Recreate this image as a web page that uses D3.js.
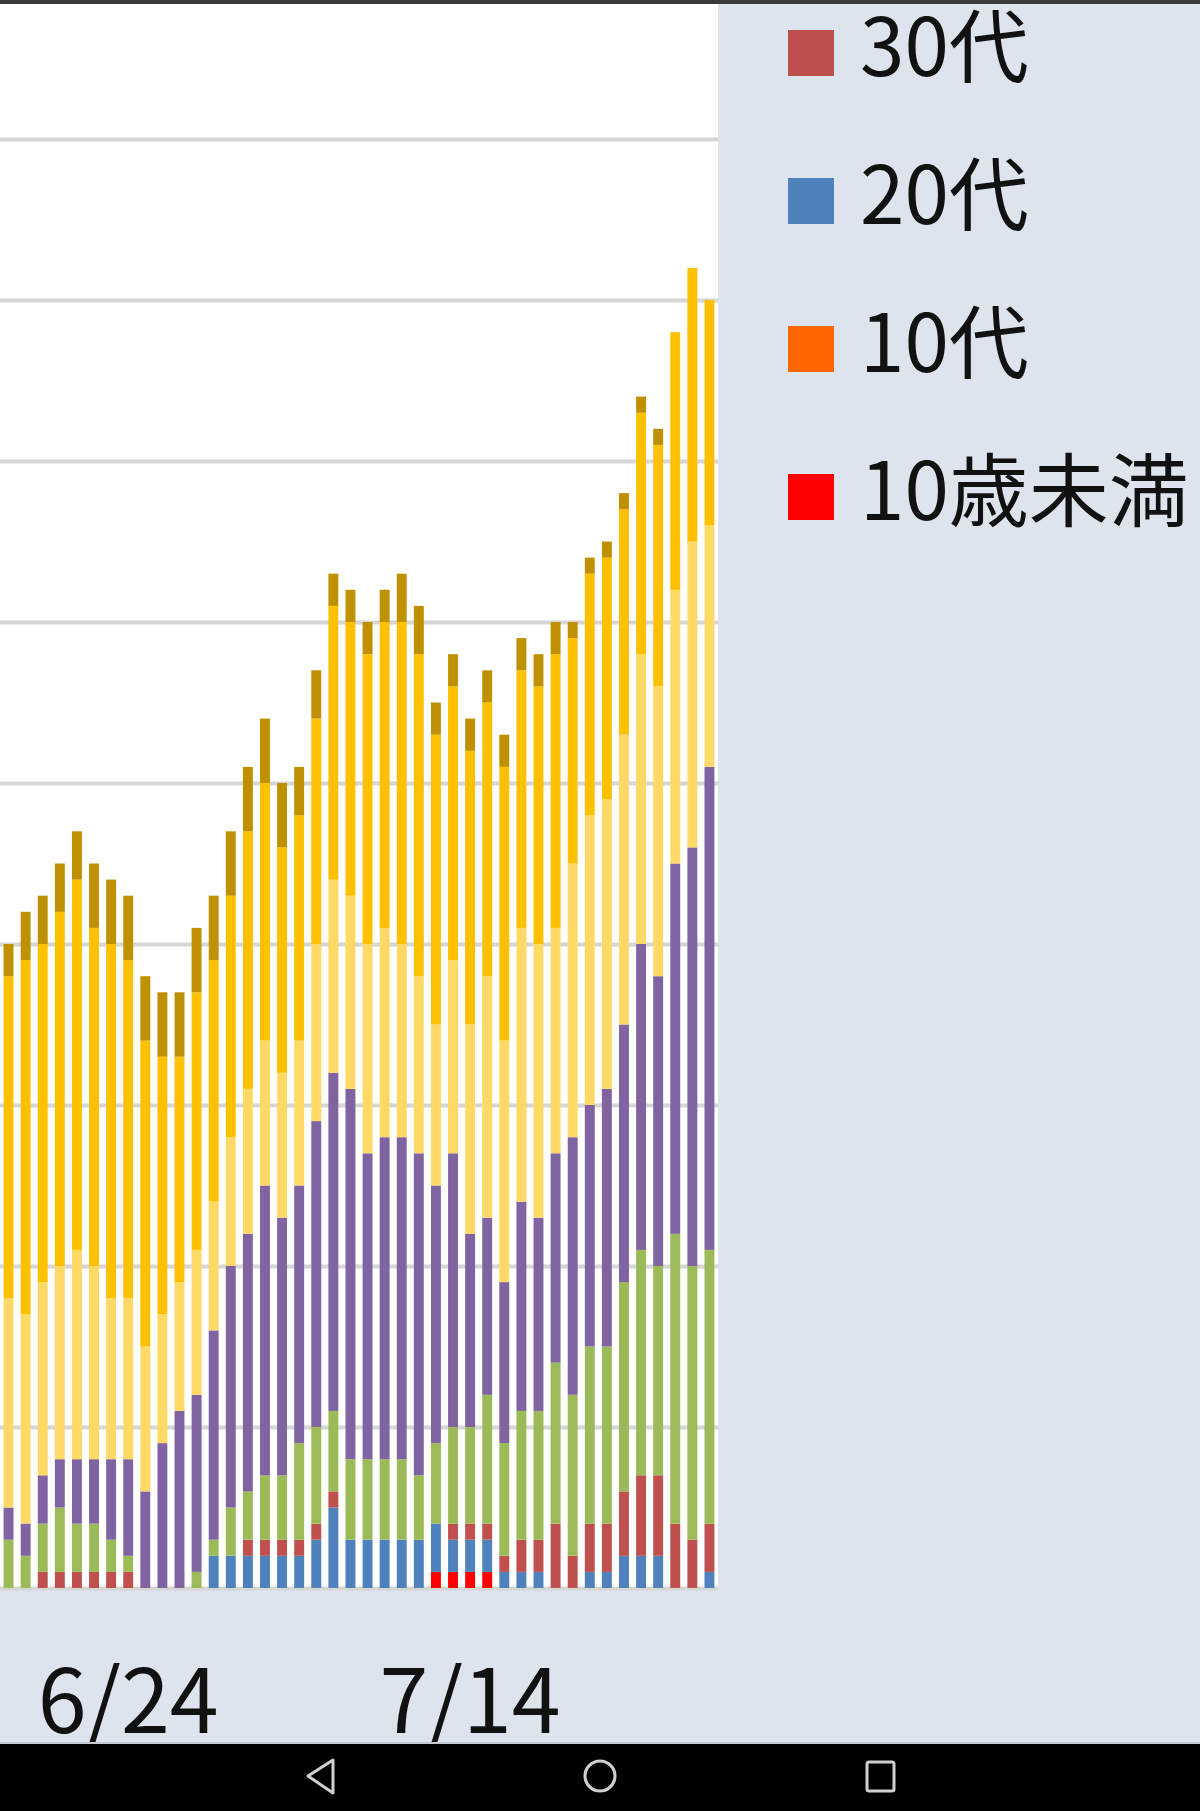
<!DOCTYPE html>
<html lang="ja">
<head>
<meta charset="utf-8">
<script src="https://cdn.jsdelivr.net/npm/d3@7"></script>
<style>
  html, body { margin: 0; padding: 0; background: #dde4ee; }
  svg { display: block; }
</style>
</head>
<body>
<div id="chart"></div>
<script>
// --- data (stacked bottom -> top) ---
const dates = [
  "6/17", "6/18", "6/19", "6/20", "6/21", "6/22", "6/23", "6/24", "6/25", "6/26",
  "6/27", "6/28", "6/29", "6/30", "7/1", "7/2", "7/3", "7/4", "7/5", "7/6",
  "7/7", "7/8", "7/9", "7/10", "7/11", "7/12", "7/13", "7/14", "7/15", "7/16",
  "7/17", "7/18", "7/19", "7/20", "7/21", "7/22", "7/23", "7/24", "7/25", "7/26",
  "7/27", "7/28"
]
const tickLabels = ["6/24", "7/14"]

const seriesNames = ["10歳未満", "10代", "20代", "30代", "40代", "50代", "60代", "70代", "80代以上"]
const seriesColors = ["#ff0000", "#ff6600", "#4f81bd", "#c0504d", "#9bbb59", "#8064a2", "#ffd966", "#ffc000", "#bf9000"]

const under10 = [0,0,0,0,0,0,0,0,0,0, 0,0,0,0,0,0,0,0,0,0, 0,0,0,0,0,1,1,1,1,0, 0,0,0,0,0,0,0,0,0,0, 0,0]
const teens   = [0,0,0,0,0,0,0,0,0,0, 0,0,0,0,0,0,0,0,0,0, 0,0,0,0,0,0,0,0,0,0, 0,0,0,0,0,0,0,0,0,0, 0,0]
const age20s  = [0,0,0,0,0,0,0,0,0,0, 0,0,2,2,2,2,2,2,3,5, 3,3,3,3,3,3,2,2,2,1, 1,1,0,0,1,1,2,2,2,0, 0,1]
const age30s  = [0,0,1,1,1,1,1,1,0,0, 0,0,0,0,1,1,1,1,1,1, 0,0,0,0,0,0,1,1,1,1, 2,2,4,2,3,3,4,5,5,4, 3,3]
const age40s  = [3,2,3,4,3,3,2,1,0,0, 0,1,1,3,3,4,4,6,6,5, 5,5,5,5,4,5,6,6,8,7, 8,8,10,10,11,11,13,14,13,18, 17,17]
const age50s  = [2,2,3,3,4,4,5,6,6,9, 11,11,13,15,16,18,16,16,19,21, 23,19,20,20,20,16,17,12,11,10, 13,12,13,16,15,16,16,19,18,23, 26,30]
const age60s  = [13,13,12,12,13,12,10,10,9,8, 8,9,8,8,9,9,9,9,11,12, 12,13,13,12,11,10,12,13,15,15, 17,17,14,17,18,18,18,18,18,17, 19,15]
const age70s  = [20,22,21,22,23,21,22,21,19,16, 14,16,15,15,16,16,14,14,14,17, 17,18,19,20,20,18,17,17,17,17, 16,16,17,14,15,15,14,15,15,16, 17,14]
const age80s  = [2,3,3,3,3,4,4,4,4,4, 4,4,4,4,4,4,4,3,3,2, 2,2,2,3,3,2,2,2,2,2, 2,2,2,1,1,1,1,1,1,0, 0,0]

const seriesValues = [under10, teens, age20s, age30s, age40s, age50s, age60s, age70s, age80s]

// --- layout ---
const width = 1200
const height = 1811
const plotRight = 718
const baseline = 1588
const unitPx = 16.1

const rows = dates.map((date, i) => {
  const row = { date }
  seriesNames.forEach((name, s) => { row[name] = seriesValues[s][i] })
  return row
})

const x = d3.scaleBand()
  .domain(dates)
  .range([0, plotRight])
  .paddingInner(0.42)
  .paddingOuter(0.21)

const y = d3.scaleLinear()
  .domain([0, 100])
  .range([baseline, baseline - 100 * unitPx])

const color = d3.scaleOrdinal(seriesNames, seriesColors)

const svg = d3.select("#chart")
  .append("svg")
  .attr("width", width)
  .attr("height", height)
  .attr("viewBox", [0, 0, width, height])

// chart background
svg.append("rect")
  .attr("width", width)
  .attr("height", height)
  .attr("fill", "#dde4ee")

// plot area
svg.append("rect")
  .attr("x", 0)
  .attr("y", 0)
  .attr("width", plotRight)
  .attr("height", baseline + 2)
  .attr("fill", "#ffffff")

// gridlines
svg.append("g")
  .call(
    d3.axisRight(y)
      .tickValues(d3.range(0, 101, 10))
      .tickSize(plotRight)
      .tickFormat("")
  )
  .call(g => g.select(".domain").remove())
  .call(g => g.selectAll(".tick line")
    .attr("stroke", "#d6d6d6")
    .attr("stroke-width", 4))

// stacked bars
const stacked = d3.stack().keys(seriesNames)(rows)

svg.append("g")
  .selectAll("g")
  .data(stacked)
  .join("g")
  .attr("fill", d => color(d.key))
  .selectAll("rect")
  .data(d => d)
  .join("rect")
  .attr("x", d => x(d.data.date))
  .attr("y", d => y(d[1]))
  .attr("width", x.bandwidth())
  .attr("height", d => y(d[0]) - y(d[1]))

// x axis labels
svg.append("g")
  .attr("transform", `translate(0,${baseline})`)
  .call(
    d3.axisBottom(x)
      .tickValues(tickLabels)
      .tickSize(0)
  )
  .call(g => g.select(".domain").remove())
  .call(g => g.selectAll(".tick text")
    .attr("y", 145)
    .attr("dy", 0)
    .attr("fill", "#111")
    .style("font-family", "'Noto Sans CJK JP', sans-serif")
    .style("font-size", "88px"))

// legend (upper entries run off the top of the screen, as in the screenshot)
const legend = svg.append("g")
  .selectAll("g")
  .data(seriesNames)
  .join("g")
  .attr("transform", (d, i) => `translate(788,${497 - i * 148})`)

legend.append("rect")
  .attr("x", 0)
  .attr("y", -23)
  .attr("width", 46)
  .attr("height", 46)
  .attr("fill", d => color(d))

legend.append("text")
  .attr("x", 72)
  .attr("y", -6)
  .attr("dy", "0.36em")
  .attr("fill", "#111")
  .style("font-family", "'Noto Sans CJK JP', sans-serif")
  .style("font-size", "80px")
  .text(d => d)

// status bar edge
svg.append("rect")
  .attr("width", width)
  .attr("height", 4)
  .attr("fill", "#3a3a3a")

// navigation bar
svg.append("rect")
  .attr("x", 0)
  .attr("y", 1742)
  .attr("width", width)
  .attr("height", 2)
  .attr("fill", "#c4cad3")

svg.append("rect")
  .attr("x", 0)
  .attr("y", 1744)
  .attr("width", width)
  .attr("height", height - 1744)
  .attr("fill", "#000000")

const nav = svg.append("g")
  .attr("fill", "none")
  .attr("stroke", "#d0d0d0")
  .attr("stroke-width", 3)
  .attr("stroke-linejoin", "round")

nav.append("path")
  .attr("d", "M333,1760 L308,1776 L333,1793 Z")

nav.append("circle")
  .attr("cx", 600)
  .attr("cy", 1776)
  .attr("r", 15)

nav.append("rect")
  .attr("x", 867)
  .attr("y", 1762)
  .attr("width", 27)
  .attr("height", 29)
  .attr("rx", 2)
</script>
</body>
</html>
